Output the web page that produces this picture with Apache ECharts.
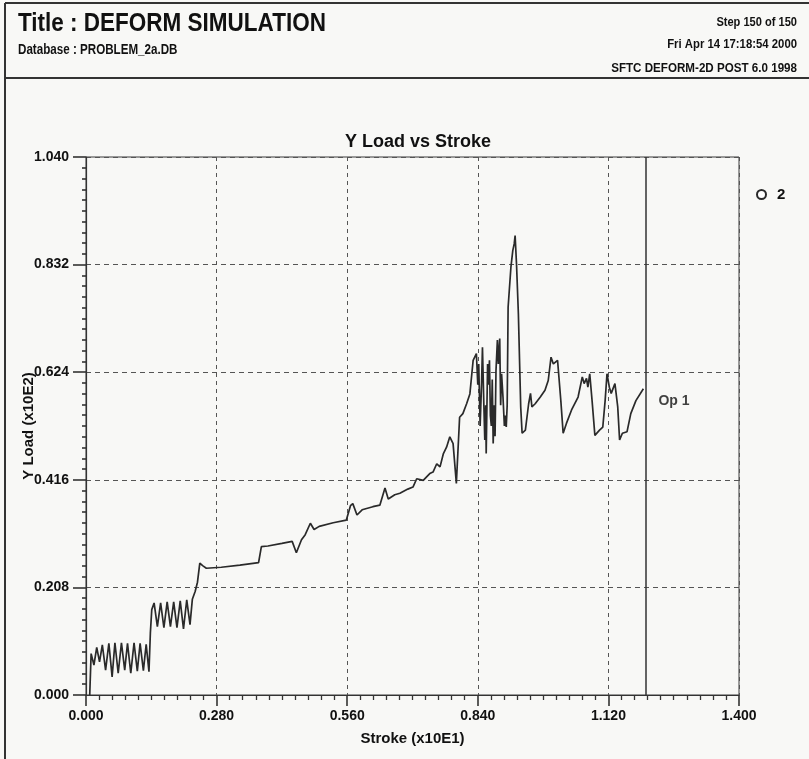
<!DOCTYPE html>
<html>
<head>
<meta charset="utf-8">
<script src="https://cdn.jsdelivr.net/npm/echarts@6/dist/echarts.min.js"></script>
<style>
html,body{margin:0;padding:0;background:#f8f8f6;}
#chart{width:809px;height:759px;}
</style>
</head>
<body>
<div id="chart"></div>
<script>
// Stroke (x10E1)
const stroke = [
0.008,0.011,0.017,0.023,0.029,0.035,0.042,0.049,0.056,0.062,0.069,0.076,0.083,0.089,0.096,0.103,0.110,0.116,0.123,0.129,0.135,0.138,0.141,
0.146,0.153,0.160,0.167,0.174,0.181,0.188,0.195,0.202,0.209,0.216,0.223,0.228,0.234,0.239,0.244,0.250,0.258,0.290,0.330,0.370,0.376,0.390,0.420,0.442,0.451,0.462,0.470,0.481,0.489,0.500,0.530,0.558,0.567,0.572,0.581,0.592,0.615,0.630,0.641,0.648,0.662,0.673,0.690,0.701,0.709,0.723,0.737,0.744,0.752,0.759,0.766,0.773,0.780,0.787,0.794,0.801,0.808,0.816,0.823,0.830,0.837,
0.840,0.842,0.845,0.848,0.850,0.853,0.855,0.857,0.858,0.861,0.863,0.865,0.867,0.869,0.871,0.873,0.875,0.877,0.879,0.882,0.884,0.887,0.889,0.891,0.894,0.897,0.899,0.901,0.903,0.905,
0.911,0.915,0.918,0.920,0.923,0.927,0.932,0.935,0.942,0.949,0.953,0.956,0.963,0.974,0.984,0.991,0.997,1.002,1.005,1.011,1.018,1.023,1.030,1.041,1.055,1.064,1.068,1.073,1.076,1.080,1.085,1.091,1.101,1.108,1.113,1.117,1.122,1.126,1.134,1.140,1.144,1.150,1.160,1.168,1.179,1.195
];
// Y Load (x10E2)
const load = [
0.000,0.080,0.058,0.092,0.064,0.097,0.048,0.100,0.035,0.101,0.042,0.101,0.048,0.100,0.042,0.101,0.046,0.100,0.047,0.098,0.045,0.120,0.165,
0.178,0.132,0.178,0.130,0.180,0.132,0.180,0.130,0.182,0.128,0.184,0.136,0.185,0.200,0.218,0.255,0.250,0.245,0.247,0.251,0.256,0.287,0.288,0.293,0.297,0.275,0.300,0.310,0.332,0.320,0.326,0.333,0.338,0.366,0.370,0.348,0.358,0.364,0.367,0.400,0.379,0.387,0.390,0.398,0.402,0.418,0.415,0.428,0.431,0.447,0.441,0.466,0.479,0.499,0.486,0.409,0.537,0.544,0.563,0.582,0.647,0.660,
0.600,0.640,0.520,0.600,0.672,0.560,0.493,0.560,0.467,0.640,0.600,0.647,0.540,0.520,0.610,0.486,0.560,0.500,0.627,0.686,0.640,0.689,0.560,0.621,0.576,0.520,0.540,0.518,0.560,0.750,
0.827,0.859,0.872,0.888,0.833,0.737,0.557,0.506,0.512,0.563,0.583,0.557,0.563,0.576,0.589,0.608,0.653,0.640,0.643,0.647,0.569,0.506,0.525,0.551,0.576,0.615,0.602,0.612,0.595,0.621,0.569,0.502,0.512,0.518,0.569,0.621,0.595,0.583,0.602,0.557,0.493,0.506,0.509,0.544,0.569,0.592
];
const xTicks = {min: 0, max: 1.4, interval: 0.28};
const yTicks = {min: 0, max: 1.04, interval: 0.208};
const seriesName = '2';
const opLabel = 'Op 1';
const currentStroke = 1.195;

const lineData = stroke.map((s, i) => [s, load[i]]);
const last = lineData[lineData.length - 1];

const FONT = '"Liberation Sans", Arial, sans-serif';
const INK = '#111';
const LINE = '#2a2a2a';
const BG = '#f8f8f6';

function hdr(text, x, y, size, align, sx) {
  return {type: 'text', x: x, y: y, scaleX: sx, originX: 0, originY: 0,
    style: {text: text, font: 'bold ' + size + 'px ' + FONT, fill: INK, textAlign: align, textVerticalAlign: 'middle'}};
}

const chart = echarts.init(document.getElementById('chart'), null, {renderer: 'canvas'});
chart.setOption({
  animation: false,
  backgroundColor: BG,
  textStyle: {fontFamily: FONT},
  title: {
    text: 'Y Load vs Stroke',
    left: 413, top: 128, textAlign: 'center',
    textStyle: {fontFamily: FONT, fontSize: 18, fontWeight: 'bold', color: INK}
  },
  legend: {
    left: 751, top: 182,
    itemWidth: 9, itemHeight: 9,
    data: [{name: seriesName, icon: 'emptyCircle'}],
    textStyle: {fontFamily: FONT, fontSize: 15, fontWeight: 'bold', color: INK, padding: [0, 0, 0, 6]}
  },
  grid: {left: 86, right: 70, top: 157, bottom: 64, show: true, borderColor: '#3a3a3a', borderWidth: 1, backgroundColor: 'transparent'},
  xAxis: {
    type: 'value', min: xTicks.min, max: xTicks.max, interval: xTicks.interval,
    name: 'Stroke (x10E1)', nameLocation: 'middle', nameGap: 36, nameMoveOverlap: false,
    nameTextStyle: {fontFamily: FONT, fontSize: 15, fontWeight: 'bold', color: INK},
    axisLine: {lineStyle: {color: '#333', width: 1.2}},
    axisTick: {show: true, length: 11, inside: false, lineStyle: {color: '#333', width: 1.6}},
    minorTick: {show: true, splitNumber: 10, length: 5, lineStyle: {color: '#333', width: 1.3}},
    axisLabel: {fontFamily: FONT, fontSize: 14, fontWeight: 'bold', color: INK, margin: 14, formatter: v => v.toFixed(3)},
    splitLine: {show: true, lineStyle: {color: '#555', type: [4, 4], width: 1}}
  },
  yAxis: {
    type: 'value', min: yTicks.min, max: yTicks.max, interval: yTicks.interval,
    name: 'Y Load (x10E2)', nameLocation: 'middle', nameGap: 50, nameRotate: 90, nameMoveOverlap: false,
    nameTextStyle: {fontFamily: FONT, fontSize: 15, fontWeight: 'bold', color: INK},
    axisLine: {lineStyle: {color: '#333', width: 1.2}},
    axisTick: {show: true, length: 13, lineStyle: {color: '#333', width: 1.6}},
    minorTick: {show: true, splitNumber: 10, length: 4, lineStyle: {color: '#333', width: 1.6}},
    axisLabel: {fontFamily: FONT, fontSize: 14, fontWeight: 'bold', color: INK, margin: 17, formatter: v => v.toFixed(3)},
    splitLine: {show: true, lineStyle: {color: '#555', type: [5, 4], width: 1}}
  },
  series: [
    {
      name: seriesName, type: 'line', data: lineData, showSymbol: false, symbol: 'none',
      lineStyle: {color: LINE, width: 1.7}, itemStyle: {color: LINE, borderColor: LINE, borderWidth: 2},
      markLine: {
        silent: true, symbol: 'none', label: {show: false},
        lineStyle: {color: '#333', type: 'solid', width: 1.5},
        data: [{xAxis: currentStroke}]
      }
    },
    {
      name: opLabel, type: 'scatter', data: [last], symbol: 'emptyCircle', symbolSize: 8,
      itemStyle: {color: BG, borderColor: LINE, borderWidth: 1.8},
      label: {show: true, formatter: opLabel, position: 'right', offset: [5, 12],
        fontFamily: FONT, fontSize: 14, fontWeight: 'bold', color: INK}
    }
  ],
  graphic: [
    {type: 'line', shape: {x1: 5, y1: 3, x2: 809, y2: 3}, style: {stroke: '#333', lineWidth: 2}},
    {type: 'line', shape: {x1: 5, y1: 3, x2: 5, y2: 759}, style: {stroke: '#333', lineWidth: 2}},
    {type: 'line', shape: {x1: 5, y1: 78, x2: 809, y2: 78}, style: {stroke: '#333', lineWidth: 2}},
    hdr('Title : DEFORM SIMULATION', 18, 24, 25, 'left', 0.9),
    hdr('Database : PROBLEM_2a.DB', 18, 50, 14, 'left', 0.83),
    hdr('Step 150 of 150', 797, 22, 13.5, 'right', 0.82),
    hdr('Fri Apr 14 17:18:54 2000', 797, 44, 13.5, 'right', 0.84),
    hdr('SFTC DEFORM-2D POST 6.0 1998', 797, 68, 13.5, 'right', 0.86)
  ]
});
</script>
</body>
</html>
